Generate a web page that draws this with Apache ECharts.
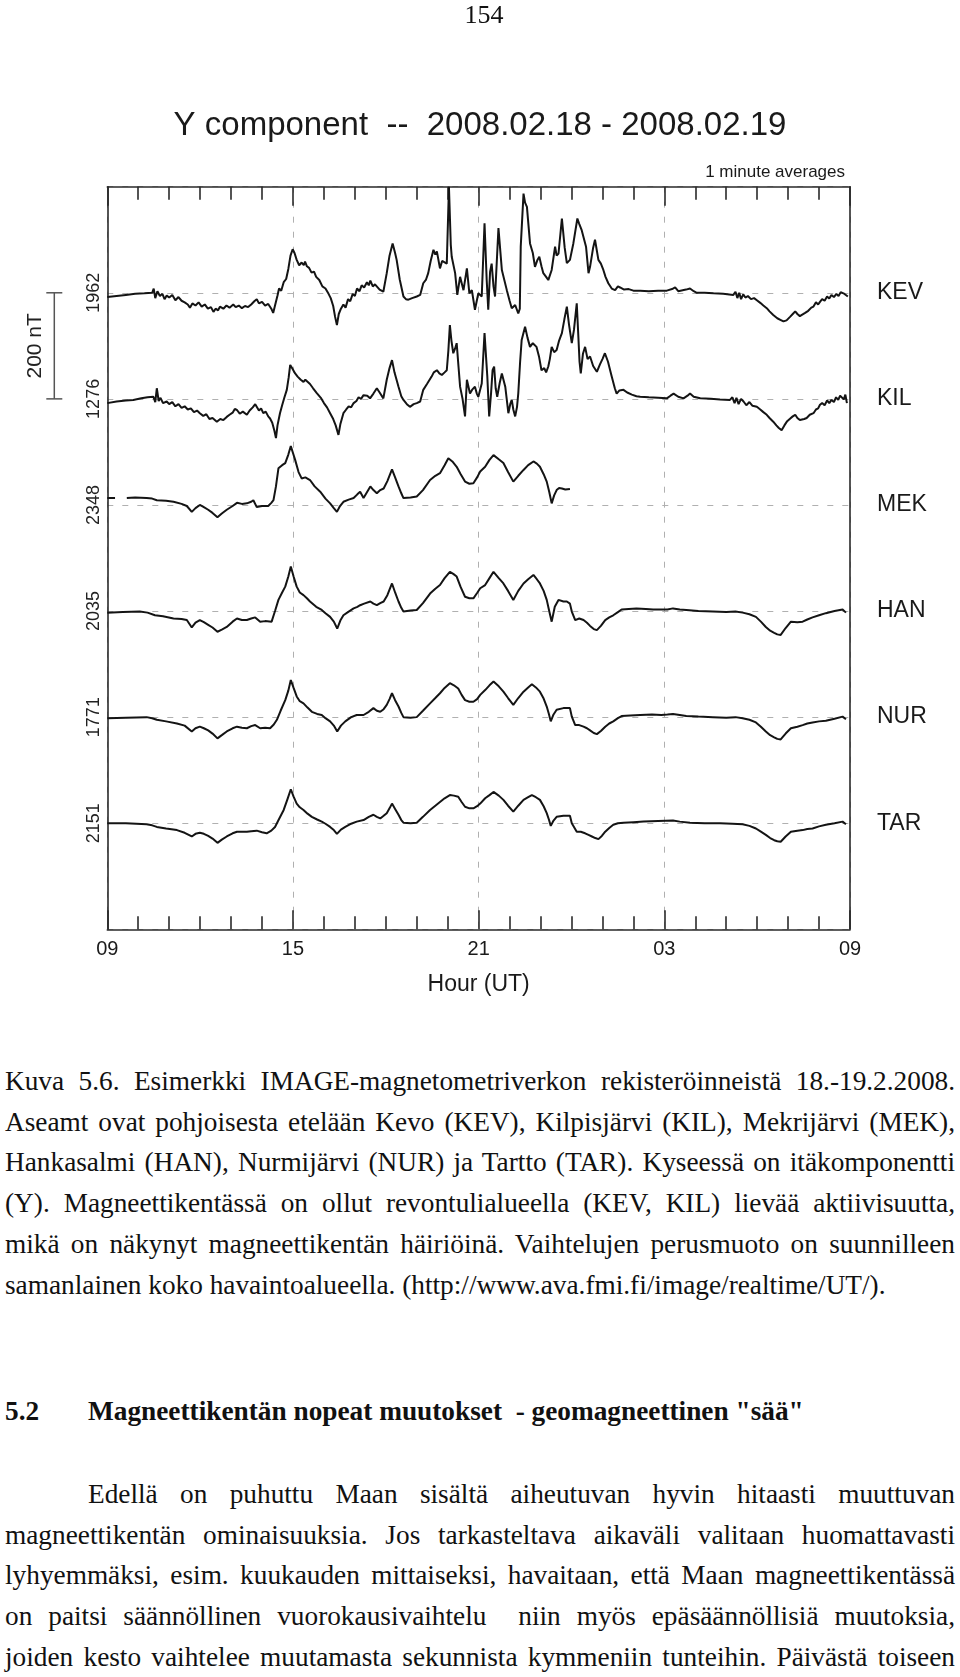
<!DOCTYPE html>
<html>
<head>
<meta charset="utf-8">
<script src="https://cdn.jsdelivr.net/npm/echarts@6/dist/echarts.min.js"></script>
<style>
  html, body { margin: 0; padding: 0; background: #fff; }
  body { width: 960px; height: 1677px; position: relative; overflow: hidden; }
  #chart { position: absolute; left: 0; top: 0; width: 960px; height: 1010px; z-index: 1; }
  .serif { font-family: "Liberation Serif", "DejaVu Serif", serif; color: #111; }
  #pagenum { position: absolute; left: 0; top: 0; width: 968px; text-align: center; font-size: 26px; line-height: 30px; z-index: 2; }
  .block { position: absolute; left: 5px; width: 950px; font-size: 27.3px; line-height: 40.7px; }
  .j { text-align: justify; text-align-last: justify; white-space: nowrap; }
  .l { text-align: left; white-space: pre; }
  #caption { top: 1061px; }
  #heading { top: 1391px; font-weight: bold; white-space: pre; }
  #heading span.num { display: inline-block; width: 83px; }
  #para { top: 1474px; }
</style>
</head>
<body>
<div id="pagenum" class="serif">154</div>
<div id="chart"></div>
<div id="caption" class="block serif">
  <div class="j">Kuva 5.6. Esimerkki IMAGE-magnetometriverkon rekisteröinneistä 18.-19.2.2008.</div>
  <div class="j">Aseamt ovat pohjoisesta etelään Kevo (KEV), Kilpisjärvi (KIL), Mekrijärvi (MEK),</div>
  <div class="j">Hankasalmi (HAN), Nurmijärvi (NUR) ja Tartto (TAR). Kyseessä on itäkomponentti</div>
  <div class="j">(Y). Magneettikentässä on ollut revontulialueella (KEV, KIL) lievää aktiivisuutta,</div>
  <div class="j">mikä on näkynyt magneettikentän häiriöinä. Vaihtelujen perusmuoto on suunnilleen</div>
  <div class="l">samanlainen koko havaintoalueella. (http://www.ava.fmi.fi/image/realtime/UT/).</div>
</div>
<div id="heading" class="block serif"><span class="num">5.2</span>Magneettikentän nopeat muutokset  - geomagneettinen "sää"</div>
<div id="para" class="block serif">
  <div class="j" style="padding-left:83px">Edellä on puhuttu Maan sisältä aiheutuvan hyvin hitaasti muuttuvan</div>
  <div class="j">magneettikentän ominaisuuksia. Jos tarkasteltava aikaväli valitaan huomattavasti</div>
  <div class="j">lyhyemmäksi, esim. kuukauden mittaiseksi, havaitaan, että Maan magneettikentässä</div>
  <div class="j">on paitsi säännöllinen vuorokausivaihtelu &nbsp;niin myös epäsäännöllisiä muutoksia,</div>
  <div class="j">joiden kesto vaihtelee muutamasta sekunnista kymmeniin tunteihin. Päivästä toiseen</div>
</div>
<script>
// ---- Data (hours after 09 UT, deviation from station baseline in nT) ----
const stations = ['KEV', 'KIL', 'MEK', 'HAN', 'NUR', 'TAR'];
const baselineLabels = ['1962', '1276', '2348', '2035', '1771', '2151'];
const xTickLabels = ['09', '15', '21', '03', '09'];
const stationSpacing = 200; // nT between station baselines (= scale bar)

const KEV = [[0,-8],[0.3,-6],[0.6,-4],[0.9,-2],[1.2,-1],[1.45,0],[1.5,8],[1.55,-10],[1.62,3],[1.7,-6],[1.78,-2],[1.85,-12],[1.92,-5],[2.0,-9],[2.1,-4],[2.2,-14],[2.3,-8],[2.4,-15],[2.5,-18],[2.6,-22],[2.67,-28],[2.75,-20],[2.85,-24],[2.95,-18],[3.05,-26],[3.15,-22],[3.25,-30],[3.35,-27],[3.43,-36],[3.5,-30],[3.58,-33],[3.64,-26],[3.75,-30],[3.85,-24],[3.95,-28],[4.07,-22],[4.15,-27],[4.25,-24],[4.35,-29],[4.45,-25],[4.55,-27],[4.65,-22],[4.75,-16],[4.83,-12],[4.9,-20],[5.0,-17],[5.1,-24],[5.2,-21],[5.3,-30],[5.36,-38],[5.42,-24],[5.5,-5],[5.55,8],[5.62,4],[5.7,20],[5.78,26],[5.85,45],[5.92,70],[5.99,82],[6.05,75],[6.12,62],[6.2,52],[6.28,57],[6.35,52],[6.39,59],[6.45,50],[6.52,47],[6.6,38],[6.68,40],[6.75,30],[6.85,24],[6.95,12],[7.05,8],[7.15,-2],[7.22,-10],[7.3,-25],[7.36,-45],[7.42,-61],[7.48,-40],[7.55,-30],[7.63,-22],[7.7,-28],[7.78,-12],[7.85,-16],[7.93,-2],[8.0,-6],[8.07,8],[8.15,3],[8.22,14],[8.3,10],[8.39,20],[8.45,14],[8.5,23],[8.58,12],[8.65,16],[8.71,15],[8.8,6],[8.92,2],[9.03,37],[9.12,70],[9.22,93],[9.3,75],[9.35,62],[9.45,25],[9.57,-7],[9.65,-12],[9.73,-13],[9.85,-10],[10.0,-7],[10.11,-4],[10.21,18],[10.3,25],[10.37,37],[10.45,60],[10.54,81],[10.6,72],[10.65,78],[10.75,46],[10.82,60],[10.88,62],[10.97,55],[11.04,200],[11.1,90],[11.13,68],[11.24,37],[11.31,-4],[11.4,30],[11.51,5],[11.62,46],[11.7,-1],[11.78,5],[11.88,-32],[11.99,-1],[12.1,-7],[12.19,131],[12.26,24],[12.31,-32],[12.37,40],[12.42,55],[12.48,12],[12.53,-7],[12.64,122],[12.75,43],[12.91,5],[13.0,-15],[13.07,-29],[13.18,-23],[13.28,-39],[13.33,-30],[13.36,87],[13.45,187],[13.5,170],[13.56,162],[13.66,93],[13.75,75],[13.82,49],[13.9,62],[13.96,68],[14.03,50],[14.09,37],[14.18,30],[14.25,24],[14.36,43],[14.47,87],[14.52,70],[14.58,74],[14.69,140],[14.78,85],[14.85,56],[14.95,62],[15.06,93],[15.19,140],[15.25,130],[15.33,118],[15.47,87],[15.55,37],[15.6,49],[15.7,85],[15.76,100],[15.87,62],[15.95,55],[16.03,43],[16.1,30],[16.19,18],[16.3,8],[16.41,5],[16.5,12],[16.57,10],[16.7,6],[16.85,7],[17.0,4],[17.22,4],[17.5,3],[17.8,4],[18.08,4],[18.25,7],[18.35,10],[18.45,3],[18.51,2],[18.7,6],[18.83,8],[18.95,3],[19.05,0],[19.3,0],[19.59,-1],[19.9,-2],[20.23,-4],[20.3,2],[20.36,-10],[20.42,0],[20.48,-12],[20.55,-3],[20.62,-9],[20.7,-6],[20.8,-12],[20.9,-10],[20.99,-14],[21.1,-19],[21.2,-24],[21.31,-29],[21.4,-35],[21.52,-42],[21.65,-48],[21.75,-51],[21.85,-54],[21.95,-52],[22.07,-45],[22.15,-40],[22.23,-35],[22.3,-40],[22.38,-44],[22.44,-45],[22.55,-38],[22.65,-34],[22.75,-28],[22.82,-26],[22.9,-18],[22.97,-22],[23.03,-17],[23.1,-12],[23.18,-15],[23.26,-7],[23.33,-11],[23.4,-4],[23.48,-8],[23.56,-2],[23.63,-6],[23.7,1],[23.79,-1],[23.85,2],[23.93,-7]];

const KIL = [[0,-8],[0.3,-5],[0.6,-3],[0.84,-2],[1.1,1],[1.3,3],[1.49,4],[1.55,-6],[1.6,20],[1.66,-4],[1.72,2],[1.8,-8],[1.92,-5],[2.0,-10],[2.1,-6],[2.2,-14],[2.3,-10],[2.4,-17],[2.5,-14],[2.6,-20],[2.7,-18],[2.8,-25],[2.9,-22],[2.99,-27],[3.1,-32],[3.2,-29],[3.3,-38],[3.4,-36],[3.54,-43],[3.65,-38],[3.75,-40],[3.86,-34],[3.95,-30],[4.05,-26],[4.12,-19],[4.19,-21],[4.28,-28],[4.38,-24],[4.51,-30],[4.6,-22],[4.7,-16],[4.78,-10],[4.83,-12],[4.9,-22],[4.97,-18],[5.04,-27],[5.12,-24],[5.2,-33],[5.26,-37],[5.33,-45],[5.4,-60],[5.45,-74],[5.5,-50],[5.58,-27],[5.65,-12],[5.72,2],[5.8,17],[5.86,40],[5.91,64],[5.97,58],[6.02,55],[6.07,48],[6.15,42],[6.25,36],[6.34,32],[6.4,36],[6.45,39],[6.55,28],[6.65,20],[6.77,11],[6.9,2],[7.0,-8],[7.1,-16],[7.2,-27],[7.3,-38],[7.38,-50],[7.47,-68],[7.53,-48],[7.63,-27],[7.72,-20],[7.8,-14],[7.88,-16],[7.96,-8],[8.05,-4],[8.12,3],[8.2,0],[8.28,7],[8.4,6],[8.49,1],[8.6,10],[8.71,20],[8.8,12],[8.92,1],[9.03,36],[9.12,58],[9.2,73],[9.28,50],[9.41,23],[9.5,5],[9.57,-2],[9.68,-10],[9.78,-15],[9.9,-10],[10.0,-8],[10.11,-5],[10.21,17],[10.33,28],[10.48,42],[10.55,50],[10.65,54],[10.73,48],[10.81,45],[10.9,50],[10.97,54],[11.02,90],[11.07,139],[11.12,110],[11.18,86],[11.24,95],[11.29,105],[11.35,60],[11.4,23],[11.48,0],[11.56,-33],[11.62,36],[11.72,10],[11.8,18],[11.88,23],[11.94,10],[11.99,4],[12.1,29],[12.19,124],[12.28,42],[12.34,-33],[12.4,10],[12.45,54],[12.5,61],[12.55,20],[12.6,4],[12.68,30],[12.75,48],[12.86,23],[12.96,-27],[13.02,-10],[13.07,-2],[13.12,-20],[13.18,-33],[13.24,-15],[13.28,10],[13.34,70],[13.39,111],[13.5,136],[13.58,115],[13.66,98],[13.75,105],[13.87,98],[13.95,80],[14.03,54],[14.12,58],[14.18,50],[14.25,61],[14.3,75],[14.36,98],[14.44,88],[14.52,92],[14.6,110],[14.69,124],[14.77,150],[14.85,174],[14.92,140],[15.01,105],[15.08,130],[15.17,180],[15.22,120],[15.26,70],[15.3,48],[15.37,85],[15.44,98],[15.52,75],[15.6,80],[15.7,62],[15.82,51],[15.92,65],[16.0,75],[16.08,86],[16.18,70],[16.3,42],[16.4,20],[16.46,10],[16.55,16],[16.68,17],[16.8,12],[16.95,8],[17.1,5],[17.22,4],[17.5,3],[17.8,2],[18.08,1],[18.2,6],[18.3,10],[18.45,4],[18.62,1],[18.75,6],[18.83,10],[18.95,4],[19.16,1],[19.5,0],[19.8,-1],[20.12,-2],[20.2,3],[20.27,-8],[20.33,2],[20.4,-10],[20.48,0],[20.56,-5],[20.65,-12],[20.75,-6],[20.85,-13],[20.99,-15],[21.1,-20],[21.2,-25],[21.31,-30],[21.4,-36],[21.52,-43],[21.62,-50],[21.7,-55],[21.79,-59],[21.88,-50],[21.97,-42],[22.07,-37],[22.15,-33],[22.23,-30],[22.3,-36],[22.38,-40],[22.44,-43],[22.52,-38],[22.6,-36],[22.7,-30],[22.82,-27],[22.9,-20],[22.97,-18],[23.03,-11],[23.1,-8],[23.18,-12],[23.26,-3],[23.33,-8],[23.4,-2],[23.48,-6],[23.55,3],[23.62,-2],[23.68,6],[23.73,4],[23.8,-1],[23.85,8],[23.9,-8]];

const MEK = [[0,13],[0.25,13],null,[0.63,13],[0.9,14],[1.27,13],[1.45,12],[1.6,9],[1.9,8],[2.14,6],[2.4,2],[2.57,-2],[2.73,-13],[2.85,-6],[2.99,0],[3.12,-4],[3.26,-9],[3.4,-15],[3.56,-23],[3.7,-16],[3.86,-9],[4.05,-2],[4.19,4],[4.35,2],[4.51,3],[4.65,6],[4.72,9],[4.83,-4],[5.0,-2],[5.2,-2],[5.3,4],[5.37,9],[5.45,35],[5.53,69],[5.65,75],[5.75,79],[5.85,95],[5.93,111],[6.0,98],[6.07,85],[6.18,62],[6.28,50],[6.4,52],[6.55,47],[6.7,35],[6.88,25],[7.05,12],[7.2,3],[7.32,-6],[7.42,-13],[7.52,-2],[7.63,6],[7.8,10],[7.96,13],[8.08,20],[8.17,25],[8.28,13],[8.4,25],[8.5,35],[8.6,28],[8.71,22],[8.82,28],[8.93,31],[9.05,45],[9.2,67],[9.3,52],[9.41,35],[9.5,22],[9.57,13],[9.8,14],[10.0,16],[10.2,28],[10.43,47],[10.6,55],[10.75,60],[10.9,75],[11.02,88],[11.15,82],[11.29,72],[11.42,58],[11.56,44],[11.7,40],[11.83,41],[11.95,52],[12.05,63],[12.21,72],[12.35,85],[12.48,94],[12.65,86],[12.8,79],[12.95,62],[13.12,44],[13.28,55],[13.45,66],[13.6,75],[13.77,82],[13.88,78],[13.98,72],[14.1,58],[14.2,44],[14.28,25],[14.36,3],[14.44,18],[14.52,28],[14.6,32],[14.69,31],[14.8,29],[14.95,30]];

const HAN = [[0,-3],[0.5,-2],[1.05,-1],[1.3,-3],[1.54,-8],[1.8,-10],[2.14,-14],[2.4,-15],[2.57,-17],[2.73,-31],[2.85,-22],[2.99,-17],[3.12,-21],[3.26,-26],[3.4,-31],[3.56,-39],[3.7,-35],[3.86,-30],[4.05,-20],[4.19,-14],[4.35,-17],[4.51,-17],[4.65,-14],[4.78,-12],[4.94,-20],[5.1,-19],[5.31,-20],[5.42,0],[5.53,21],[5.65,35],[5.75,46],[5.85,65],[5.93,84],[6.02,65],[6.12,46],[6.22,35],[6.34,30],[6.45,24],[6.55,18],[6.75,8],[6.93,2],[7.05,-4],[7.2,-11],[7.32,-20],[7.43,-33],[7.53,-18],[7.63,-8],[7.8,-1],[7.96,5],[8.08,8],[8.17,11],[8.3,14],[8.5,18],[8.6,14],[8.71,11],[8.82,15],[8.93,18],[9.05,30],[9.2,52],[9.3,35],[9.41,18],[9.5,6],[9.57,-1],[9.8,1],[10.0,2],[10.2,15],[10.43,33],[10.6,42],[10.75,49],[10.9,62],[11.07,74],[11.18,70],[11.29,65],[11.42,45],[11.56,27],[11.7,24],[11.83,24],[11.95,34],[12.05,43],[12.21,49],[12.35,62],[12.48,74],[12.65,62],[12.8,52],[12.95,38],[13.12,21],[13.28,38],[13.45,52],[13.6,60],[13.77,68],[13.88,60],[13.98,52],[14.1,38],[14.2,21],[14.28,0],[14.36,-20],[14.46,8],[14.58,21],[14.74,18],[14.85,18],[14.95,14],[15.01,-1],[15.12,-17],[15.25,-14],[15.39,-17],[15.5,-22],[15.6,-28],[15.72,-34],[15.82,-36],[15.95,-28],[16.09,-17],[16.22,-12],[16.35,-8],[16.5,-2],[16.62,3],[16.85,4],[17.1,5],[17.4,4],[17.64,3],[17.9,3],[18.1,3],[18.28,5],[18.5,3],[18.71,2],[19.1,0],[19.57,-1],[20.0,-2],[20.3,-1],[20.53,-3],[20.75,-6],[20.96,-11],[21.12,-20],[21.28,-30],[21.42,-37],[21.55,-41],[21.65,-44],[21.76,-45],[21.92,-32],[22.09,-20],[22.3,-21],[22.47,-20],[22.62,-16],[22.79,-12],[23.0,-8],[23.22,-4],[23.5,0],[23.76,3],[23.87,-3]];

const NUR = [[0,-2],[0.6,-1],[1.27,0],[1.45,-2],[1.6,-5],[1.9,-8],[2.25,-12],[2.5,-16],[2.73,-27],[2.85,-21],[2.99,-18],[3.12,-21],[3.26,-25],[3.4,-31],[3.56,-40],[3.7,-34],[3.86,-27],[4.05,-21],[4.19,-18],[4.35,-20],[4.51,-21],[4.65,-17],[4.78,-15],[4.94,-21],[5.1,-20],[5.26,-21],[5.38,-14],[5.48,-5],[5.6,12],[5.75,32],[5.85,50],[5.93,70],[6.02,55],[6.12,39],[6.22,30],[6.34,26],[6.47,18],[6.61,10],[6.78,6],[6.93,4],[7.05,-2],[7.2,-8],[7.32,-16],[7.43,-27],[7.55,-16],[7.69,-8],[7.88,0],[8.06,4],[8.28,4],[8.45,10],[8.6,17],[8.71,12],[8.82,10],[8.93,15],[9.03,23],[9.12,34],[9.2,45],[9.3,32],[9.41,20],[9.5,8],[9.57,0],[9.8,-1],[10.0,0],[10.2,12],[10.43,26],[10.6,36],[10.75,45],[10.9,55],[11.07,64],[11.2,60],[11.34,54],[11.45,42],[11.56,32],[11.7,29],[11.83,29],[11.95,34],[12.05,42],[12.21,51],[12.35,60],[12.48,67],[12.65,58],[12.8,48],[12.95,36],[13.12,23],[13.28,36],[13.45,48],[13.6,56],[13.72,62],[13.85,56],[13.98,48],[14.1,35],[14.2,20],[14.27,6],[14.33,-8],[14.42,5],[14.52,14],[14.74,17],[14.95,17],[15.01,1],[15.12,-15],[15.25,-15],[15.39,-18],[15.5,-21],[15.6,-25],[15.72,-30],[15.82,-32],[15.95,-26],[16.09,-18],[16.22,-12],[16.35,-8],[16.5,-2],[16.62,2],[16.9,3],[17.22,4],[17.6,5],[17.9,4],[18.1,5],[18.28,6],[18.5,4],[18.71,2],[19.1,1],[19.57,0],[20.0,-1],[20.3,0],[20.53,-2],[20.75,-5],[20.96,-10],[21.12,-18],[21.28,-27],[21.42,-34],[21.55,-38],[21.65,-41],[21.76,-42],[21.92,-31],[22.09,-21],[22.3,-18],[22.47,-15],[22.62,-12],[22.79,-10],[23.0,-8],[23.22,-7],[23.5,-3],[23.76,1],[23.87,-4]];

const TAR = [[0,0],[0.6,0],[1.27,-2],[1.45,-4],[1.6,-7],[1.9,-10],[2.25,-13],[2.5,-18],[2.73,-25],[2.85,-20],[2.99,-18],[3.12,-20],[3.26,-24],[3.4,-29],[3.56,-37],[3.7,-31],[3.86,-25],[4.05,-19],[4.19,-16],[4.35,-16],[4.51,-16],[4.65,-15],[4.83,-14],[5.0,-17],[5.15,-19],[5.3,-14],[5.42,-7],[5.55,8],[5.7,25],[5.82,45],[5.93,64],[6.02,50],[6.12,37],[6.22,30],[6.34,25],[6.47,18],[6.61,12],[6.78,7],[6.93,3],[7.05,-1],[7.2,-7],[7.32,-13],[7.42,-20],[7.55,-12],[7.69,-7],[7.88,-1],[8.06,3],[8.28,6],[8.45,12],[8.6,16],[8.71,12],[8.82,9],[8.93,14],[9.03,19],[9.12,28],[9.2,37],[9.3,27],[9.41,16],[9.5,6],[9.57,1],[9.8,0],[10.0,1],[10.2,12],[10.43,25],[10.6,33],[10.75,40],[10.9,47],[11.07,53],[11.2,52],[11.34,50],[11.45,40],[11.56,31],[11.7,28],[11.83,28],[11.95,32],[12.05,37],[12.21,47],[12.35,53],[12.48,59],[12.65,52],[12.8,44],[12.95,33],[13.12,22],[13.28,33],[13.45,44],[13.6,49],[13.72,53],[13.85,49],[13.98,44],[14.1,32],[14.2,19],[14.27,7],[14.33,-5],[14.42,5],[14.52,12],[14.74,14],[14.95,14],[15.01,0],[15.17,-16],[15.3,-16],[15.44,-19],[15.55,-22],[15.66,-25],[15.77,-28],[15.87,-30],[15.98,-24],[16.09,-16],[16.22,-9],[16.35,-3],[16.5,0],[16.68,1],[17.0,2],[17.33,3],[17.8,4],[18.28,5],[18.5,3],[18.83,1],[19.3,0],[19.8,0],[20.2,-1],[20.53,-2],[20.75,-5],[20.96,-10],[21.12,-16],[21.28,-22],[21.42,-28],[21.55,-32],[21.65,-34],[21.76,-35],[21.92,-25],[22.09,-16],[22.3,-14],[22.47,-13],[22.62,-11],[22.79,-10],[23.0,-6],[23.22,-3],[23.5,0],[23.76,3],[23.87,-2]];

const stationData = [KEV, KIL, MEK, HAN, NUR, TAR];

// ---- Chart ----
const FONT = '"Liberation Sans", Arial, Helvetica, sans-serif';
const offsets = stations.map((s, i) => (stations.length - 1 - i) * stationSpacing);
const labelAt = (arr) => (v) => {
  const i = offsets.indexOf(Math.round(v));
  return i >= 0 ? arr[i] : '';
};

const chart = echarts.init(document.getElementById('chart'), null, { renderer: 'canvas' });

const axisLineStyle = { color: '#2a2a2a', width: 1.6 };
const dashStyle = { color: '#b0b0b0', width: 1, type: [6, 9] };

const xBase = {
  type: 'value', min: 0, max: 24, interval: 6,
  axisLine: { show: true, lineStyle: axisLineStyle, onZero: false },
  axisTick: { show: true, inside: true, length: 19, lineStyle: axisLineStyle },
  minorTick: { show: true, splitNumber: 6, length: 13, lineStyle: axisLineStyle },
  minorSplitLine: { show: false }
};

const option = {
  animation: false,
  backgroundColor: 'transparent',
  title: [
    { text: 'Y component  --  2008.02.18 - 2008.02.19', left: 'center', top: 104,
      textStyle: { fontFamily: FONT, fontSize: 33, fontWeight: 'normal', color: '#1a1a1a' } },
    { text: '1 minute averages', right: 110, top: 159,
      textStyle: { fontFamily: FONT, fontSize: 17, fontWeight: 'normal', color: '#1a1a1a' } }
  ],
  grid: { left: 107.3, right: 110, top: 186.7, height: 742.6, containLabel: false },
  xAxis: [
    Object.assign({}, xBase, {
      position: 'bottom',
      axisLabel: { show: true, margin: 10, fontFamily: FONT, fontSize: 20, color: '#1a1a1a',
        formatter: (v) => xTickLabels[Math.round(v / 6)] },
      splitLine: { show: true, lineStyle: dashStyle },
      name: 'Hour (UT)', nameLocation: 'middle', nameGap: 44,
      nameTextStyle: { fontFamily: FONT, fontSize: 23, color: '#1a1a1a' }
    }),
    Object.assign({}, xBase, {
      position: 'top',
      axisLabel: { show: false },
      splitLine: { show: false }
    })
  ],
  yAxis: [
    { type: 'value', position: 'left', min: -stationSpacing, max: stations.length * stationSpacing,
      interval: stationSpacing,
      axisLine: { show: true, lineStyle: axisLineStyle, onZero: false },
      axisTick: { show: false },
      axisLabel: { show: true, rotate: 90, margin: 4, fontFamily: FONT, fontSize: 18, color: '#222',
        formatter: labelAt(baselineLabels) },
      splitLine: { show: true, lineStyle: dashStyle } },
    { type: 'value', position: 'right', min: -stationSpacing, max: stations.length * stationSpacing,
      interval: stationSpacing,
      axisLine: { show: true, lineStyle: axisLineStyle, onZero: false },
      axisTick: { show: false },
      axisLabel: { show: true, margin: 27, fontFamily: FONT, fontSize: 23, color: '#1a1a1a',
        padding: [5, 0, 0, 0], formatter: labelAt(stations) },
      splitLine: { show: false } }
  ],
  series: stations.map((name, i) => ({
    name: name,
    type: 'line',
    xAxisIndex: 0, yAxisIndex: 0,
    showSymbol: false, symbol: 'none',
    connectNulls: false,
    silent: true,
    lineStyle: { color: '#141414', width: 2 },
    data: stationData[i].map(p => p === null ? null : [p[0], p[1] + offsets[i]])
  }))
};
chart.setOption(option);

// 200 nT scale bar, placed from the axis scale (spans one station spacing)
const yTop = chart.convertToPixel({ yAxisIndex: 0 }, offsets[0]);
const yBot = chart.convertToPixel({ yAxisIndex: 0 }, offsets[1]);
const barX = 54.3;
chart.setOption({
  graphic: [
    { type: 'line', shape: { x1: barX, y1: yTop, x2: barX, y2: yBot }, style: { stroke: '#555', lineWidth: 1.5 } },
    { type: 'line', shape: { x1: barX - 8, y1: yTop, x2: barX + 8, y2: yTop }, style: { stroke: '#555', lineWidth: 1.5 } },
    { type: 'line', shape: { x1: barX - 8, y1: yBot, x2: barX + 8, y2: yBot }, style: { stroke: '#555', lineWidth: 1.5 } },
    { type: 'text', x: 35, y: (yTop + yBot) / 2, rotation: Math.PI / 2,
      style: { text: stationSpacing + ' nT', fontFamily: FONT, fontSize: 21, fill: '#222',
        textAlign: 'center', textVerticalAlign: 'middle' } }
  ]
});
</script>
</body>
</html>
